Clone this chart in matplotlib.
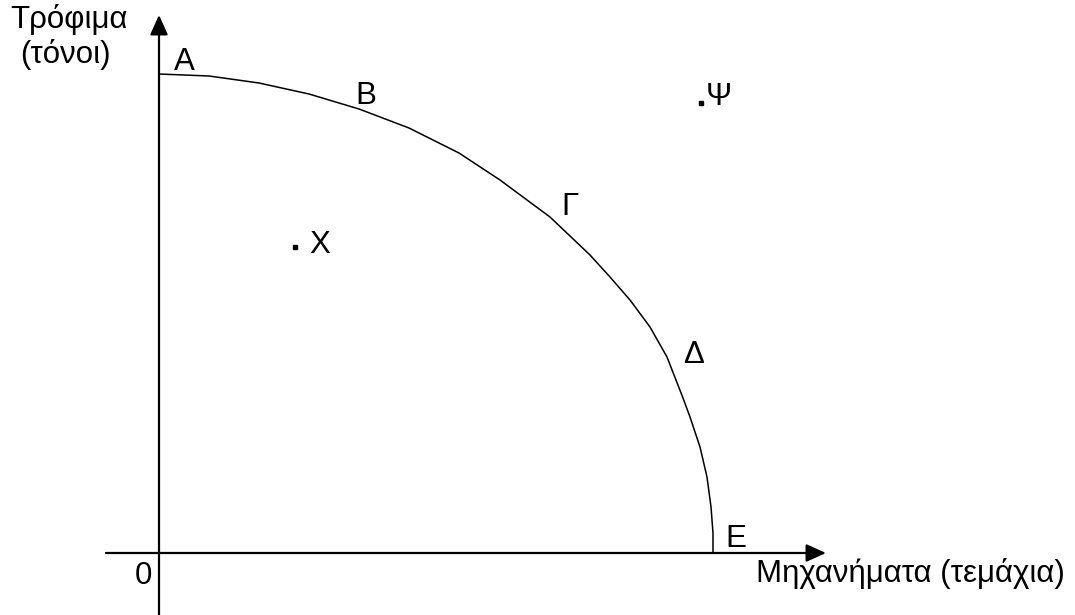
import matplotlib
matplotlib.use("Agg")
import matplotlib.pyplot as plt

plt.rcParams["font.family"] = ["Liberation Sans", "DejaVu Sans"]

# production possibility frontier (x = machines, y = food)
machines = [0, 50, 100, 150, 200, 250, 300, 341, 391, 431, 451, 471, 491,
            508, 524, 531, 541, 548, 552, 554, 554]
food = [479, 477, 470, 459, 444, 425, 400, 373, 336, 298, 276, 253, 226,
        196, 155, 136, 106, 76, 46, 20, 0]

# labelled points on the curve
curve_labels = ["A", "B", "Γ", "Δ", "Ε"]
curve_label_x = [25, 207, 411, 535, 577]
curve_label_y = [483, 449, 338, 190, 6]

# points off the curve
point_names = ["X", "Ψ"]
point_x = [136, 542]
point_y = [306, 450]

fig = plt.figure(figsize=(10.75, 6.15), dpi=100)
ax = fig.add_axes([0, 0, 1, 1])
ax.set_xlim(-159, 916)
ax.set_ylim(-62, 553)
ax.axis("off")

fs = 22.5

# axes with arrows
arrow = dict(arrowstyle="-|>,head_length=0.8,head_width=0.36", lw=1.6,
             color="black", mutation_scale=15, shrinkA=0, shrinkB=0)
ax.annotate("", xy=(0, 538), xytext=(0, -62), arrowprops=arrow)
ax.annotate("", xy=(667, 0), xytext=(-53, 0), arrowprops=arrow)

# the frontier
ax.plot(machines, food, color="black", lw=1.1, solid_joinstyle="round")

for lab, x, y in zip(curve_labels, curve_label_x, curve_label_y):
    ax.text(x, y, lab, fontsize=fs, ha="center", va="baseline")

ax.plot(point_x, point_y, "s", color="black", markersize=3.2)
ax.text(point_x[0] + 25, 300, point_names[0], fontsize=fs, ha="center", va="baseline")
ax.text(point_x[1] + 18, 448, point_names[1], fontsize=fs, ha="center", va="baseline")

ax.text(-16, -31, "0", fontsize=fs, ha="center", va="baseline")
ax.text(597, -29, "Μηχανήματα (τεμάχια)", fontsize=fs, ha="left", va="baseline")
ax.text(-90, 525, "Τρόφιμα", fontsize=fs, ha="center", va="baseline")
ax.text(-94, 490, "(τόνοι)", fontsize=fs, ha="center", va="baseline")

fig.savefig("out.png", dpi=100)
